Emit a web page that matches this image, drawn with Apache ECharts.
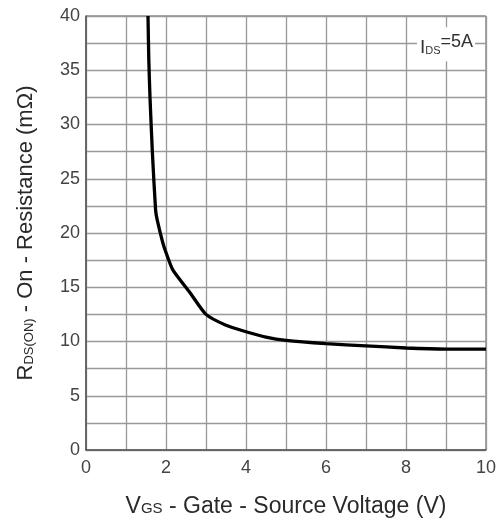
<!DOCTYPE html>
<html><head><meta charset="utf-8">
<script src="https://cdn.jsdelivr.net/npm/echarts@6/dist/echarts.min.js"></script>
<style>html,body{margin:0;padding:0;background:#fff}#c{width:499px;height:525px}</style>
</head><body><div id="c"></div>
<script>
const vgs = [1.55, 1.57, 1.6, 1.66, 1.74, 1.78, 1.92, 2.0, 2.17, 2.6, 3.0, 3.5, 4.0, 4.5, 5, 6, 7, 8, 9, 10];
const rdson = [40, 36, 32.5, 27.4, 22.1, 21.2, 19.1, 18.2, 16.6, 14.5, 12.5, 11.5, 10.9, 10.4, 10.1, 9.8, 9.6, 9.4, 9.3, 9.3];
const xTicks = [0, 2, 4, 6, 8, 10];
const yTicks = [0, 5, 10, 15, 20, 25, 30, 35, 40];
const annotation = {x: 9.0, y: 37.4, text: '{i|I}{s|DS}{n|=5A}'};

const chart = echarts.init(document.getElementById('c'), null, {renderer: 'canvas'});
const font = '"Liberation Sans", Arial, sans-serif';
chart.setOption({
  animation: false,
  backgroundColor: '#fff',
  grid: {left: 86, right: 12, top: 16, bottom: 75, show: true, borderColor: '#555', borderWidth: 1},
  xAxis: {
    type: 'value', min: 0, max: 10, interval: 1,
    name: '{v|V}{s|GS}{t| - Gate - Source Voltage (V)}',
    nameLocation: 'middle', nameGap: 45,
    nameTextStyle: {rich: {
      v: {fontFamily: font, fontSize: 23, color: '#2a2a2a'},
      s: {fontFamily: font, fontSize: 15, color: '#2a2a2a', padding: [5,0,0,0]},
      t: {fontFamily: font, fontSize: 23, color: '#2a2a2a'}
    }},
    axisLine: {show: true, lineStyle: {color: '#555', width: 1.5}},
    axisTick: {show: false},
    splitLine: {show: true, lineStyle: {color: '#999', width: 1.3}},
    axisLabel: {fontFamily: font, fontSize: 18, color: '#444', margin: 9,
      formatter: v => xTicks.includes(v) ? String(v) : ''}
  },
  yAxis: {
    type: 'value', min: 0, max: 40, interval: 2.5,
    name: '{r|R}{s|DS(ON)}{t| - On - Resistance (mΩ)}',
    nameLocation: 'middle', nameGap: 49,
    nameTextStyle: {rich: {
      r: {fontFamily: font, fontSize: 22, color: '#2a2a2a'},
      s: {fontFamily: font, fontSize: 13, color: '#2a2a2a', padding: [7,0,0,0]},
      t: {fontFamily: font, fontSize: 22, color: '#2a2a2a'}
    }},
    axisLine: {show: true, lineStyle: {color: '#555', width: 1.5}},
    axisTick: {show: false},
    splitLine: {show: true, lineStyle: {color: '#999', width: 1.3}},
    axisLabel: {fontFamily: font, fontSize: 18, color: '#444', margin: 6,
      formatter: v => yTicks.includes(v) ? String(v) : ''}
  },
  series: [{
    type: 'line',
    data: vgs.map((v, i) => [v, rdson[i]]),
    showSymbol: false,
    smooth: 0.2,
    lineStyle: {color: '#000', width: 3.3},
    clip: true,
    markPoint: {
      symbol: 'rect', symbolSize: 0,
      data: [{coord: [annotation.x, annotation.y]}],
      label: {
        show: true, position: 'inside',
        formatter: annotation.text,
        backgroundColor: '#fff', padding: [5, 2, 4, 3],
        rich: {
          i: {fontFamily: font, fontSize: 19, color: '#333', padding: [6,0,0,0]},
          s: {fontFamily: font, fontSize: 11, color: '#333', padding: [12,0,0,0]},
          n: {fontFamily: font, fontSize: 18, color: '#333', padding: [0,0,5,0]}
        }
      }
    }
  }]
});
</script></body></html>
